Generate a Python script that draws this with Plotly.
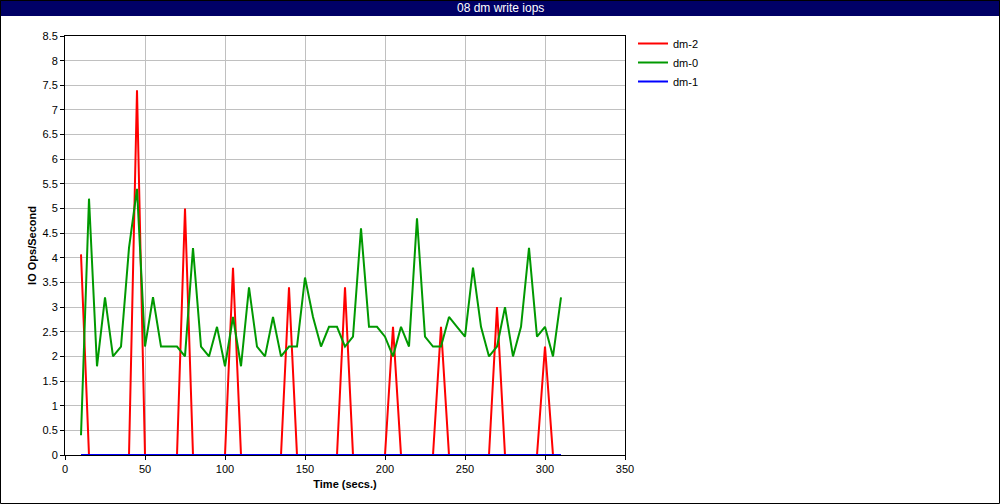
import plotly.graph_objects as go

time_s = [10 + 5 * i for i in range(61)]

dm2 = [4.07, 0, 0, 0, 0, 0, 0, 7.4, 0, 0, 0, 0, 0, 5.0, 0, 0, 0, 0, 0, 3.8,
       0, 0, 0, 0, 0, 0, 3.4, 0, 0, 0, 0, 0, 0, 3.4, 0, 0, 0, 0, 0, 2.6,
       0, 0, 0, 0, 0, 2.6, 0, 0, 0, 0, 0, 0, 3.0, 0, 0, 0, 0, 0, 2.2, 0, 0]

dm0 = [0.4, 5.2, 1.8, 3.2, 2.0, 2.2, 4.2, 5.4, 2.2, 3.2, 2.2, 2.2, 2.2, 2.0, 4.2, 2.2,
       2.0, 2.6, 1.8, 2.8, 1.8, 3.4, 2.2, 2.0, 2.8, 2.0, 2.2, 2.2, 3.6, 2.8, 2.2, 2.6,
       2.6, 2.2, 2.4, 4.6, 2.6, 2.6, 2.4, 2.0, 2.6, 2.2, 4.8, 2.4, 2.2, 2.2, 2.8, 2.6,
       2.4, 3.8, 2.6, 2.0, 2.2, 3.0, 2.0, 2.6, 4.2, 2.4, 2.6, 2.0, 3.2]

dm1 = [0] * 61

x_ticks = [0, 50, 100, 150, 200, 250, 300, 350]
y_ticks = [i * 0.5 for i in range(18)]
y_labels = [("%g" % v) for v in y_ticks]

series = [("dm-2", dm2, "#FF0000"), ("dm-0", dm0, "#009900"), ("dm-1", dm1, "#0000FF")]

fig = go.Figure()
for name, vals, col in series:
    fig.add_trace(go.Scatter(x=time_s, y=vals, mode="lines", name=name,
                             line=dict(color=col, width=2)))

W, H = 1000, 504
L, R, T, B = 65, 375, 36, 49
pw, ph = W - L - R, H - T - B

def px_x(p):
    return (p - L) / pw

def px_y(p):
    return (H - B - p) / ph

font = "Liberation Sans, Arial, sans-serif"

fig.update_layout(
    width=W, height=H,
    margin=dict(l=L, r=R, t=T, b=B),
    paper_bgcolor="white", plot_bgcolor="white",
    font=dict(family=font, size=11, color="black"),
    showlegend=True,
    legend=dict(x=px_x(633), y=px_y(29), xanchor="left", yanchor="top",
                bgcolor="rgba(0,0,0,0)", font=dict(size=11), itemwidth=30,
                tracegroupgap=0),
    xaxis=dict(range=[0, 350], tickvals=x_ticks, showgrid=True, gridcolor="#C0C0C0",
               gridwidth=1, showline=True, linecolor="black", linewidth=1, mirror=True,
               ticks="outside", ticklen=4, tickcolor="black", zeroline=False,
               title=dict(text="<b>Time (secs.)</b>", standoff=6, font=dict(size=11))),
    yaxis=dict(range=[0, 8.5], tickvals=y_ticks, ticktext=y_labels, showgrid=True,
               gridcolor="#C0C0C0", gridwidth=1, showline=True, linecolor="black",
               linewidth=1, mirror=True, ticks="outside", ticklen=4, tickcolor="black",
               zeroline=False,
               title=dict(text="<b>IO Ops/Second</b>", standoff=3, font=dict(size=11))),
    shapes=[
        dict(type="rect", xref="paper", yref="paper",
             x0=px_x(0), x1=px_x(W), y0=px_y(16), y1=px_y(0),
             fillcolor="#000066", line=dict(width=0), layer="above"),
        dict(type="rect", xref="paper", yref="paper",
             x0=px_x(0.5), x1=px_x(W - 0.5), y0=px_y(H - 0.5), y1=px_y(0.5),
             fillcolor="rgba(0,0,0,0)", line=dict(color="black", width=1), layer="above"),
    ],
    annotations=[
        dict(text="08 dm write iops", xref="paper", yref="paper",
             x=px_x(W / 2), y=px_y(8), xanchor="center", yanchor="middle",
             showarrow=False, font=dict(color="white", size=12, family=font)),
    ],
)

fig.write_html("out.html", config={"displayModeBar": False},
               post_script="document.body.style.margin='0';document.body.style.padding='0';")
